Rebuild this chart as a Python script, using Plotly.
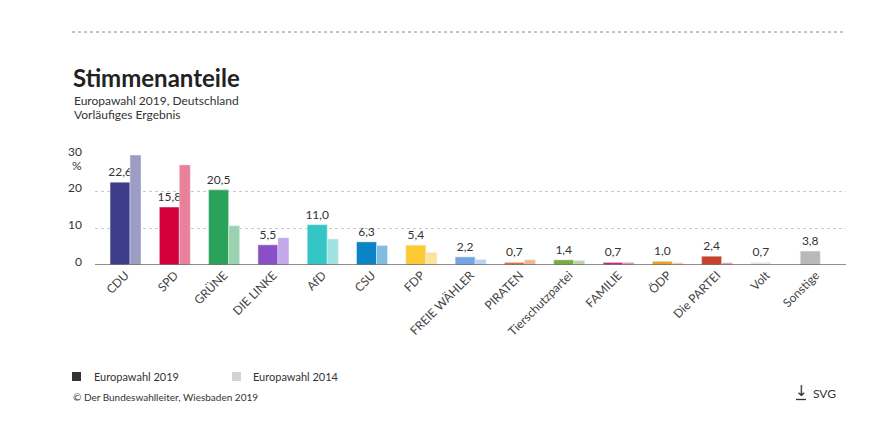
import plotly.graph_objects as go

# ---- data ----
parties = ["CDU", "SPD", "GRÜNE", "DIE LINKE", "AfD", "CSU", "FDP", "FREIE WÄHLER",
           "PIRATEN", "Tierschutzpartei", "FAMILIE", "ÖDP", "Die PARTEI", "Volt", "Sonstige"]
votes_2019 = [22.6, 15.8, 20.5, 5.5, 11.0, 6.3, 5.4, 2.2, 0.7, 1.4, 0.7, 1.0, 2.4, 0.7, 3.8]
votes_2014 = [30.0, 27.3, 10.7, 7.4, 7.1, 5.3, 3.4, 1.5, 1.4, 1.2, 0.7, 0.6, 0.6, None, None]
y_ticks = [0, 10, 20, 30]

colors_2019 = ["#3d3d8c", "#d5003b", "#2ba25a", "#8a4fc7", "#34c6c4", "#0a84c4", "#fdca34",
               "#74a6e2", "#e96f26", "#78aa46", "#c8267c", "#e9a21e", "#c8412c", "#e6e6e6", "#b9b9b9"]
colors_2014 = ["#9c9cc4", "#ea819a", "#9ad3ad", "#c3a7e8", "#9ee2e1", "#80bde1", "#fee49a",
               "#b9d3f1", "#f4b58f", "#bcd5a3", "#e595be", "#f4d28e", "#e4a095", "#eeeeee", "#dddddd"]

W, H = 880, 436
L, R, T, B = 95, 846, 155, 265          # plot area in pixels
FONT = "Lato, 'Open Sans', sans-serif"
TXT = "#333333"

def px(x):
    return (x - L) / (R - L)

def py(y):
    return (B - y) / (B - T)

fig = go.Figure()
fig.add_bar(x=parties, y=votes_2019, marker_color=colors_2019, width=0.405, offset=-0.314,
            text=votes_2019, texttemplate="%{y:.1f}", textposition="outside",
            constraintext="none",
            textfont=dict(size=12, color=TXT, family=FONT), cliponaxis=False,
            showlegend=False, hoverinfo="skip", name="Europawahl 2019")
fig.add_bar(x=parties, y=votes_2014, marker_color=colors_2014, width=0.223, offset=0.091,
            showlegend=False, hoverinfo="skip", name="Europawahl 2014")

annotations = []
for t in y_ticks:
    annotations.append(dict(x=0, xref="paper", y=t, yref="y", text=str(t), showarrow=False,
                            xanchor="right", yanchor="middle", xshift=-11, yshift=4,
                            font=dict(size=12, color=TXT, family=FONT)))
annotations.append(dict(x=0, xref="paper", y=py(165), yref="paper", text="%", showarrow=False,
                        xanchor="right", yanchor="middle", xshift=-11,
                        font=dict(size=12, color=TXT, family=FONT)))
# title block
annotations.append(dict(x=px(71), y=py(77), xref="paper", yref="paper", text="<b>Stimmenanteile</b>",
                        showarrow=False, xanchor="left", yanchor="middle",
                        font=dict(size=24, color="#222222", family=FONT)))
annotations.append(dict(x=px(72), y=py(100), xref="paper", yref="paper",
                        text="Europawahl 2019, Deutschland", showarrow=False, xanchor="left",
                        yanchor="middle", font=dict(size=12, color=TXT, family=FONT)))
annotations.append(dict(x=px(72), y=py(114), xref="paper", yref="paper",
                        text="Vorläufiges Ergebnis", showarrow=False, xanchor="left",
                        yanchor="middle", font=dict(size=12, color=TXT, family=FONT)))
# legend
annotations.append(dict(x=px(92), y=py(376), xref="paper", yref="paper", text="Europawahl 2019",
                        showarrow=False, xanchor="left", yanchor="middle",
                        font=dict(size=11, color=TXT, family=FONT)))
annotations.append(dict(x=px(251), y=py(376), xref="paper", yref="paper", text="Europawahl 2014",
                        showarrow=False, xanchor="left", yanchor="middle",
                        font=dict(size=11, color=TXT, family=FONT)))
annotations.append(dict(x=px(71), y=py(397), xref="paper", yref="paper",
                        text="© Der Bundeswahlleiter, Wiesbaden 2019", showarrow=False,
                        xanchor="left", yanchor="middle", font=dict(size=10, color=TXT, family=FONT)))
annotations.append(dict(x=px(801), y=py(391), xref="paper", yref="paper",
                        text="<span style='font-family:DejaVu Sans'>↓</span>", showarrow=False,
                        xanchor="center", yanchor="middle", font=dict(size=15, color=TXT, family=FONT)))
annotations.append(dict(x=px(811), y=py(393), xref="paper", yref="paper",
                        text="SVG", showarrow=False,
                        xanchor="left", yanchor="middle", font=dict(size=12, color=TXT, family=FONT)))

shapes = [
    dict(type="line", xref="paper", yref="paper", x0=px(72), x1=px(845), y0=py(32), y1=py(32),
         line=dict(color="#8a8a8a", width=1, dash="dot")),
    dict(type="rect", xref="paper", yref="paper", x0=px(72), x1=px(81), y0=py(372), y1=py(381),
         fillcolor="#333333", line=dict(width=0)),
    dict(type="rect", xref="paper", yref="paper", x0=px(232), x1=px(241), y0=py(372), y1=py(381),
         fillcolor="#d3d3d3", line=dict(width=0)),
    dict(type="line", xref="paper", yref="paper", x0=px(796), x1=px(806), y0=py(399.5), y1=py(399.5),
         line=dict(color=TXT, width=1.3)),
    dict(type="line", xref="paper", yref="y", x0=0, x1=1, y0=0, y1=0,
         line=dict(color="#6b6b6b", width=1.5)),
]

fig.update_layout(
    width=W, height=H,
    margin=dict(l=L, r=W - R, t=T, b=H - B, pad=0),
    paper_bgcolor="white", plot_bgcolor="white",
    barmode="overlay", separators=",.",
    font=dict(family=FONT, color=TXT, size=12),
    annotations=annotations, shapes=shapes,
    xaxis=dict(range=[-0.619, 14.614], tickangle=-45, showgrid=False, showline=False,
               ticks="", tickfont=dict(size=12, color="#444444", family=FONT), fixedrange=True),
    yaxis=dict(range=[0, 30], tickvals=y_ticks, showticklabels=False, showgrid=True,
               gridcolor="#c8c8c8", griddash="dot", gridwidth=1, zeroline=False,
               showline=False, fixedrange=True),
    hovermode=False,
)

fig.write_html("out.html", config={"displayModeBar": False},
               post_script="document.body.style.margin='0';document.body.style.overflow='hidden';")
